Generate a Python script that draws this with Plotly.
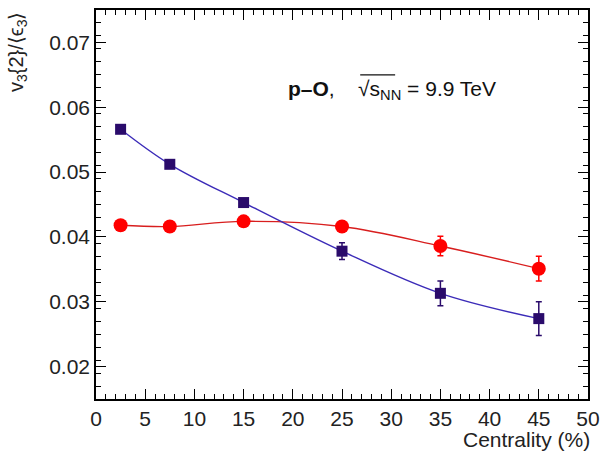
import plotly.graph_objects as go

centrality = [2.5, 7.5, 15, 25, 35, 45]
v3_ratio_sq = [0.0566, 0.0512, 0.0453, 0.0378, 0.0313, 0.0274]
v3_ratio_sq_err = [0.0004, 0.0004, 0.0005, 0.0013, 0.0019, 0.0026]
v3_ratio_ci = [0.0418, 0.0416, 0.0424, 0.0416, 0.0386, 0.0351]
v3_ratio_ci_err = [0.0004, 0.0004, 0.0005, 0.0008, 0.0015, 0.0019]

x_ticks = [0, 5, 10, 15, 20, 25, 30, 35, 40, 45, 50]
y_ticks = [0.02, 0.03, 0.04, 0.05, 0.06, 0.07]

FONT = "Liberation Sans, Arial, sans-serif"
BLUE_LINE = "#3b2bb8"
BLUE_MK = "#2a0b6b"
RED = "#ff0000"
RED_LINE = "#d81e1e"

fig = go.Figure()

fig.add_trace(go.Scatter(
    x=centrality, y=v3_ratio_ci, mode="lines",
    line=dict(color=RED_LINE, width=1.4, shape="spline", smoothing=1.0),
    showlegend=False, hoverinfo="skip"))
fig.add_trace(go.Scatter(
    x=centrality, y=v3_ratio_sq, mode="lines",
    line=dict(color=BLUE_LINE, width=1.4, shape="spline", smoothing=1.0),
    showlegend=False, hoverinfo="skip"))

fig.add_trace(go.Scatter(
    x=centrality, y=v3_ratio_ci, mode="markers",
    marker=dict(symbol="circle", size=14, color=RED, line=dict(width=0)),
    error_y=dict(type="data", array=v3_ratio_ci_err, color=RED, thickness=1.5, width=3),
    showlegend=False))
fig.add_trace(go.Scatter(
    x=centrality, y=v3_ratio_sq, mode="markers",
    marker=dict(symbol="square", size=11, color=BLUE_MK, line=dict(width=0)),
    error_y=dict(type="data", array=v3_ratio_sq_err, color=BLUE_MK, thickness=1.5, width=3),
    showlegend=False))

axis_common = dict(
    showline=True, linecolor="black", linewidth=1.5, mirror="ticks",
    ticks="inside", tickcolor="black", tickwidth=1.3, ticklen=10,
    showgrid=False, zeroline=False, automargin=False,
    tickfont=dict(family=FONT, size=21, color="#222"),
)

fig.update_layout(
    width=604, height=456,
    margin=dict(l=96, r=16, t=10, b=57, autoexpand=False),
    paper_bgcolor="white", plot_bgcolor="white",
    xaxis=dict(range=[0, 50], tickvals=x_ticks, ticktext=[str(v) for v in x_ticks],
               minor=dict(dtick=1, ticklen=5, ticks="inside", tickcolor="black", tickwidth=1.1),
               **axis_common),
    yaxis=dict(range=[0.015, 0.075], tickvals=y_ticks, ticktext=[f"{v:.2f}" for v in y_ticks],
               minor=dict(dtick=0.002, tick0=0.015, ticklen=5, ticks="inside", tickcolor="black", tickwidth=1.1),
               **axis_common),
)

fig.add_annotation(
    xref="paper", yref="paper", x=1.008, y=-0.105, xanchor="right", yanchor="middle",
    text="Centrality (%)", showarrow=False,
    font=dict(family=FONT, size=21, color="#222"))

fig.add_annotation(
    xref="paper", yref="paper", x=-0.19, y=1.0, xanchor="left", yanchor="top",
    text="v<sub>3</sub>{2}/⟨ϵ<sub>3</sub>⟩", textangle=-90, showarrow=False,
    font=dict(family=FONT, size=20, color="#222"))

fig.add_annotation(
    xref="paper", yref="paper", x=0.386, y=0.794, xanchor="left", yanchor="middle",
    text="<b>p–O</b>,&nbsp;&nbsp;&nbsp;&nbsp;√s<sub>NN</sub> = 9.9 TeV", showarrow=False,
    font=dict(family=FONT, size=21, color="#111"))

# overline of the square-root sign
fig.add_shape(type="line", xref="paper", yref="paper",
              x0=0.537, x1=0.608, y0=0.833, y1=0.833,
              line=dict(color="#111", width=1.2))

fig.write_html("out.html", config={"displayModeBar": False},
               post_script="document.body.style.margin='0';")
